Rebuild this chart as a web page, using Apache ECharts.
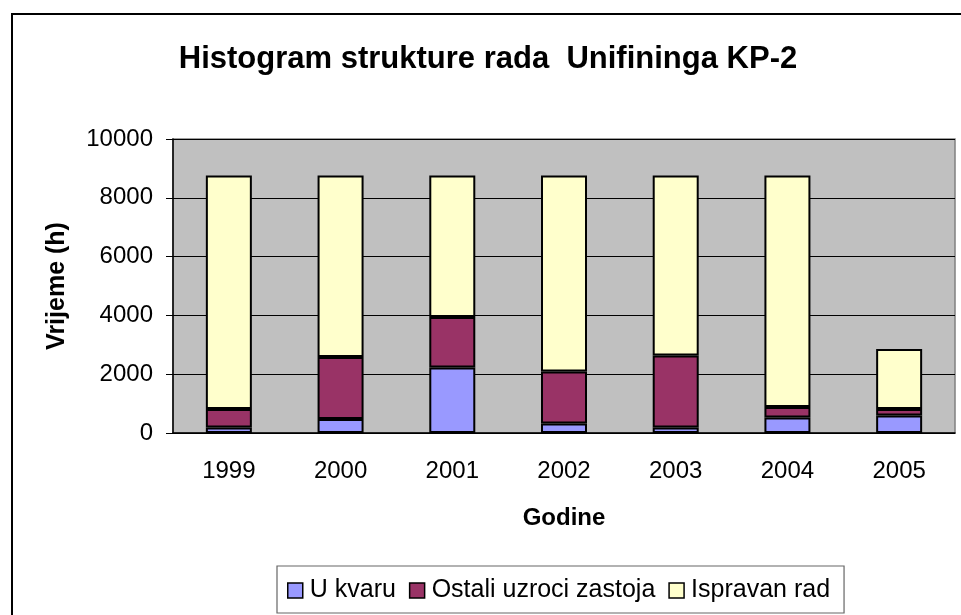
<!DOCTYPE html>
<html><head><meta charset="utf-8">
<script src="https://cdn.jsdelivr.net/npm/echarts@6/dist/echarts.min.js"></script>
<style>html,body{margin:0;padding:0;background:#fff}#c{width:961px;height:615px}</style>
</head><body><div id="c"></div>
<script>
var categories = ['1999','2000','2001','2002','2003','2004','2005'];
var uKvaru = [190, 476, 2229, 326, 190, 530, 598];
var ostali = [626, 2107, 1713, 1767, 2447, 353, 218];
var ispravan = [7944, 6177, 4818, 6667, 6123, 7877, 2038];
var seriesNames = ['U kvaru', 'Ostali uzroci zastoja', 'Ispravan rad'];
var colors = ['#9999ff', '#993366', '#ffffcc'];
var yTicks = {min: 0, max: 10000, interval: 2000};

var chart = echarts.init(document.getElementById('c'), null, {renderer: 'canvas'});
var font = 'Liberation Sans, Arial, sans-serif';
function mk(name, data, i) {
  return {
    name: name, type: 'bar', stack: 'a', data: data, barWidth: 46,
    itemStyle: {color: colors[i], borderColor: '#000', borderWidth: 2},
    emphasis: {disabled: true}
  };
}
chart.setOption({
  animation: false,
  backgroundColor: '#fff',
  title: {
    text: 'Histogram strukture rada  Unifininga KP-2',
    left: 483, top: 39, textAlign: 'center',
    textStyle: {fontFamily: font, fontSize: 31, fontWeight: 'bold', color: '#000'}
  },
  graphic: [{
    type: 'rect', shape: {x: 12, y: 14, width: 960, height: 620},
    style: {fill: 'none', stroke: '#000', lineWidth: 2}, silent: true, z: 100
  }],
  grid: {left: 173, right: 6, top: 139, bottom: 182, show: true,
    backgroundColor: '#c0c0c0', borderColor: '#808080', borderWidth: 1.5},
  legend: {
    data: seriesNames, left: 277, top: 566,
    padding: [12, 14, 10, 10],
    borderColor: '#666', borderWidth: 1.2, itemGap: 13,
    itemWidth: 15, itemHeight: 15, icon: 'rect',
    itemStyle: {borderWidth: 1.5, borderColor: '#000'},
    textStyle: {fontFamily: font, fontSize: 25, color: '#000', padding: [0, 0, 0, 2]}
  },
  xAxis: {
    type: 'category', data: categories,
    name: 'Godine', nameLocation: 'middle', nameGap: 73,
    nameTextStyle: {fontFamily: font, fontSize: 24, fontWeight: 'bold', color: '#000'},
    axisLine: {lineStyle: {color: '#000', width: 1.5}},
    axisTick: {length: 7, lineStyle: {color: '#000'}},
    axisLabel: {fontFamily: font, fontSize: 24, color: '#000', margin: 26}
  },
  yAxis: {
    type: 'value', min: yTicks.min, max: yTicks.max, interval: yTicks.interval,
    name: 'Vrijeme (h)', nameLocation: 'middle', nameGap: 103, nameRotate: 90,
    nameTextStyle: {fontFamily: font, fontSize: 25, fontWeight: 'bold', color: '#000'},
    axisLine: {show: true, lineStyle: {color: '#000', width: 1.5}},
    axisTick: {show: true, inside: false, length: 7, lineStyle: {color: '#000'}},
    axisLabel: {fontFamily: font, fontSize: 24, color: '#000', margin: 20,
      formatter: function (v) { return String(v); }},
    splitLine: {lineStyle: {color: '#000', width: 1}}
  },
  series: [mk(seriesNames[0], uKvaru, 0), mk(seriesNames[1], ostali, 1), mk(seriesNames[2], ispravan, 2)]
});
</script></body></html>
